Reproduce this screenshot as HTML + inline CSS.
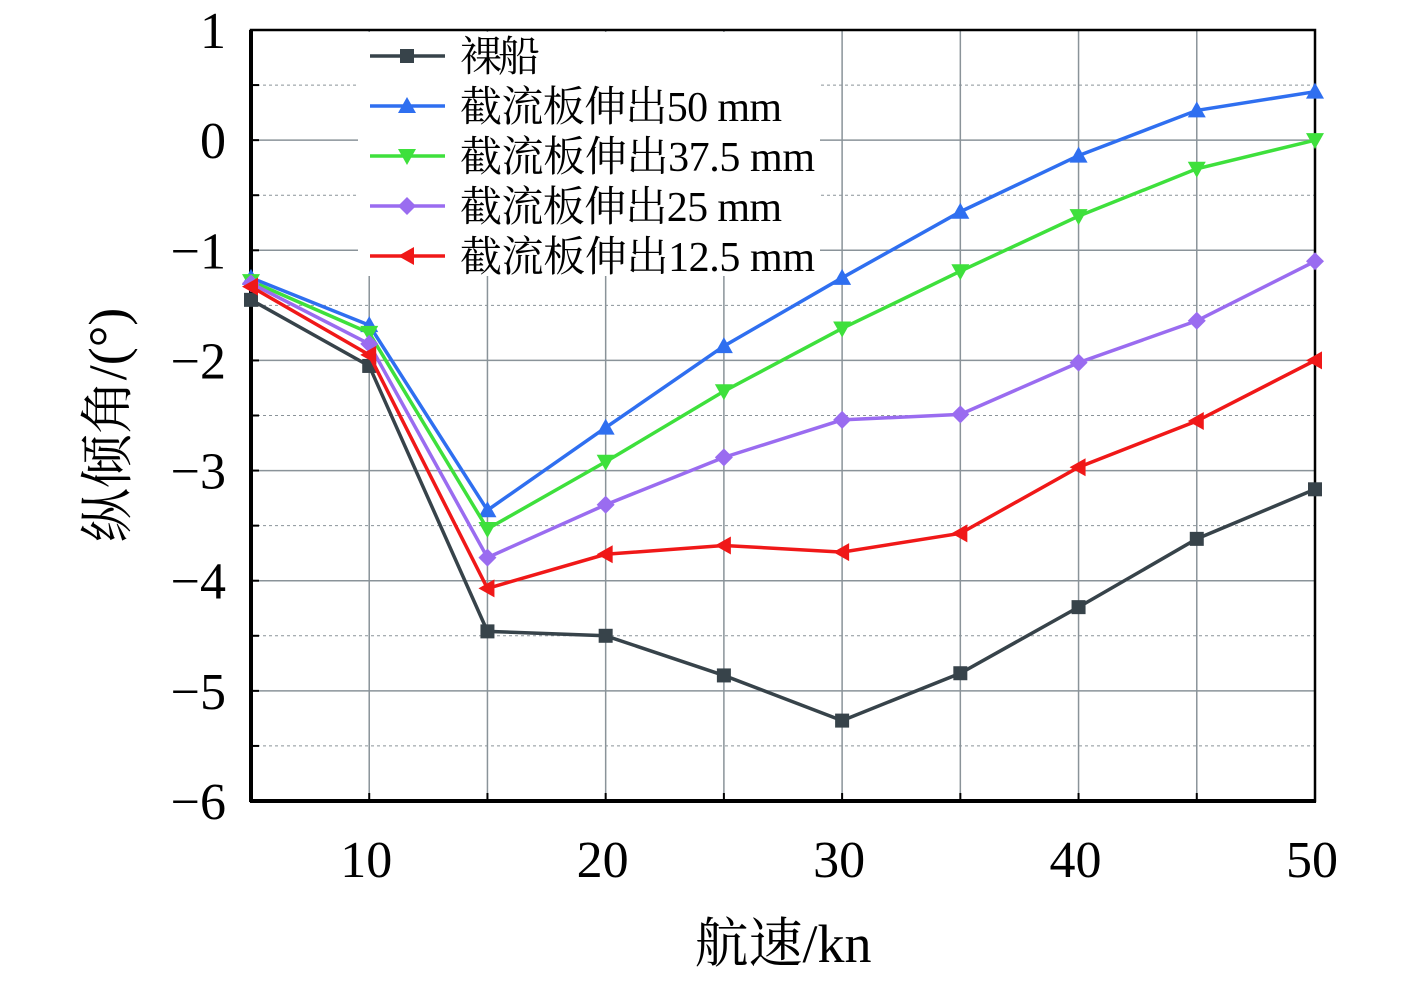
<!DOCTYPE html>
<html><head><meta charset="utf-8"><style>
body{margin:0;background:#fff;}
svg{display:block;font-family:"Liberation Serif","Noto Serif CJK SC",serif;}
</style></head><body>
<svg id="chart" width="1417" height="983"></svg>
<script>
const speeds=[5,10,15,20,25,30,35,40,45,50];
const bare=[-1.45,-2.05,-4.46,-4.5,-4.86,-5.27,-4.84,-4.24,-3.62,-3.17];
const tab50=[-1.25,-1.68,-3.36,-2.61,-1.87,-1.25,-0.65,-0.14,0.27,0.44];
const tab375=[-1.28,-1.75,-3.53,-2.92,-2.28,-1.71,-1.19,-0.69,-0.26,0.0];
const tab25=[-1.3,-1.85,-3.79,-3.31,-2.88,-2.54,-2.49,-2.02,-1.64,-1.1];
const tab125=[-1.33,-1.95,-4.07,-3.76,-3.68,-3.74,-3.57,-2.97,-2.55,-2.0];
const xTicks=[10,20,30,40,50];
const yTicks=[1,0,-1,-2,-3,-4,-5,-6];
const seriesNames=["裸船","截流板伸出50 mm","截流板伸出37.5 mm","截流板伸出25 mm","截流板伸出12.5 mm"];

const NS="http://www.w3.org/2000/svg";
const svg=document.getElementById('chart');
const L=251,R=1315,T=30,B=801;
const X=v=>L+(v-5)/45*(R-L);
const Y=v=>T+(1-v)/7*(B-T);
function mk(tag,attrs,parent){const e=document.createElementNS(NS,tag);for(const k in attrs)e.setAttribute(k,attrs[k]);(parent||svg).appendChild(e);return e;}

for(let v=-6;v<=1.001;v+=0.5){
  const major=Math.abs(v%1)<0.01;
  const g=mk('line',{x1:L,x2:R,y1:Y(v),y2:Y(v),stroke:'#8a9399','stroke-width':major?1.5:1,'stroke-dasharray':major?'':'3,3'});
  
  
  mk('line',{x1:L,x2:L+8,y1:Y(v),y2:Y(v),stroke:'#000','stroke-width':2});
}
for(let v=10;v<=50;v+=5){
  const g=mk('line',{x1:X(v),x2:X(v),y1:T,y2:B,stroke:'#8a9399','stroke-width':1.5});
  
  
  mk('line',{x1:X(v),x2:X(v),y1:B,y2:B-8,stroke:'#000','stroke-width':2});
}
const fr=mk('rect',{x:L,y:T,width:R-L,height:B-T,fill:'none',stroke:'#000','stroke-width':2.5});


mk('line',{x1:L,x2:L,y1:T,y2:B+1,stroke:'#000','stroke-width':4});
mk('line',{x1:L-1,x2:R+1,y1:B,y2:B,stroke:'#000','stroke-width':4});

yTicks.forEach(v=>{
  const t=mk('text',{x:226,y:Y(v)+18,'font-size':52,'text-anchor':'end',fill:'#000'});
  t.textContent=v<0?'−'+Math.abs(v):String(v);
  
  
});
xTicks.forEach(v=>{
  const t=mk('text',{x:X(v)-3,y:877,'font-size':52,'text-anchor':'middle',fill:'#000'});
  t.textContent=String(v);
  
  
});
const xt=mk('text',{x:783,y:962,'font-size':54,'text-anchor':'middle'});
xt.textContent='航速/kn';


const yt=mk('text',{x:0,y:0,'font-size':54,'text-anchor':'middle',transform:'translate(126,425) rotate(-90)'});
yt.textContent='纵倾角/(°)';



function marker(shape,x,y,color,parent){
  if(shape==='sq') return mk('rect',{x:x-7,y:y-7,width:14,height:14,fill:color},parent);
  if(shape==='up') return mk('polygon',{points:`${x},${y-9} ${x+9},${y+7} ${x-9},${y+7}`,fill:color},parent);
  if(shape==='down') return mk('polygon',{points:`${x},${y+9} ${x+9},${y-7} ${x-9},${y-7}`,fill:color},parent);
  if(shape==='dia') return mk('polygon',{points:`${x},${y-9} ${x+9},${y} ${x},${y+9} ${x-9},${y}`,fill:color},parent);
  if(shape==='left') return mk('polygon',{points:`${x-9},${y} ${x+7},${y-9} ${x+7},${y+9}`,fill:color},parent);
}
const series=[[bare,'#37434a','sq'],[tab50,'#2f6ff0','up'],[tab375,'#3ee03c','down'],[tab25,'#9a6cf0','dia'],[tab125,'#f01818','left']];
const seriesKeys=['series-bare-hull','series-tab-50mm','series-tab-37-5mm','series-tab-25mm','series-tab-12-5mm'];
series.forEach((s,i)=>{
  const g=mk('g',{});
  
  
  mk('polyline',{points:speeds.map((x,j)=>X(x)+','+Y(s[0][j])).join(' '),fill:'none',stroke:s[1],'stroke-width':3.5},g);
  speeds.forEach((x,j)=>{
    const m=marker(s[2],X(x),Y(s[0][j]),s[1],g);
    
    
  });
});

const lg=mk('g',{});


mk('rect',{x:358,y:32,width:462,height:244,fill:'#fff'},lg);
series.forEach((s,i)=>{
  const y=56+i*50;
  const e=mk('g',{},lg);
  
  
  mk('line',{x1:370,x2:445,y1:y,y2:y,stroke:s[1],'stroke-width':3.5},e);
  marker(s[2],407,y,s[1],e);
  const t=mk('text',{x:460,y:y+15,'font-size':42,textLength:i===0?80:(i===2||i===4?355:322)},e);
  t.textContent=seriesNames[i];
});
</script>
</body></html>
